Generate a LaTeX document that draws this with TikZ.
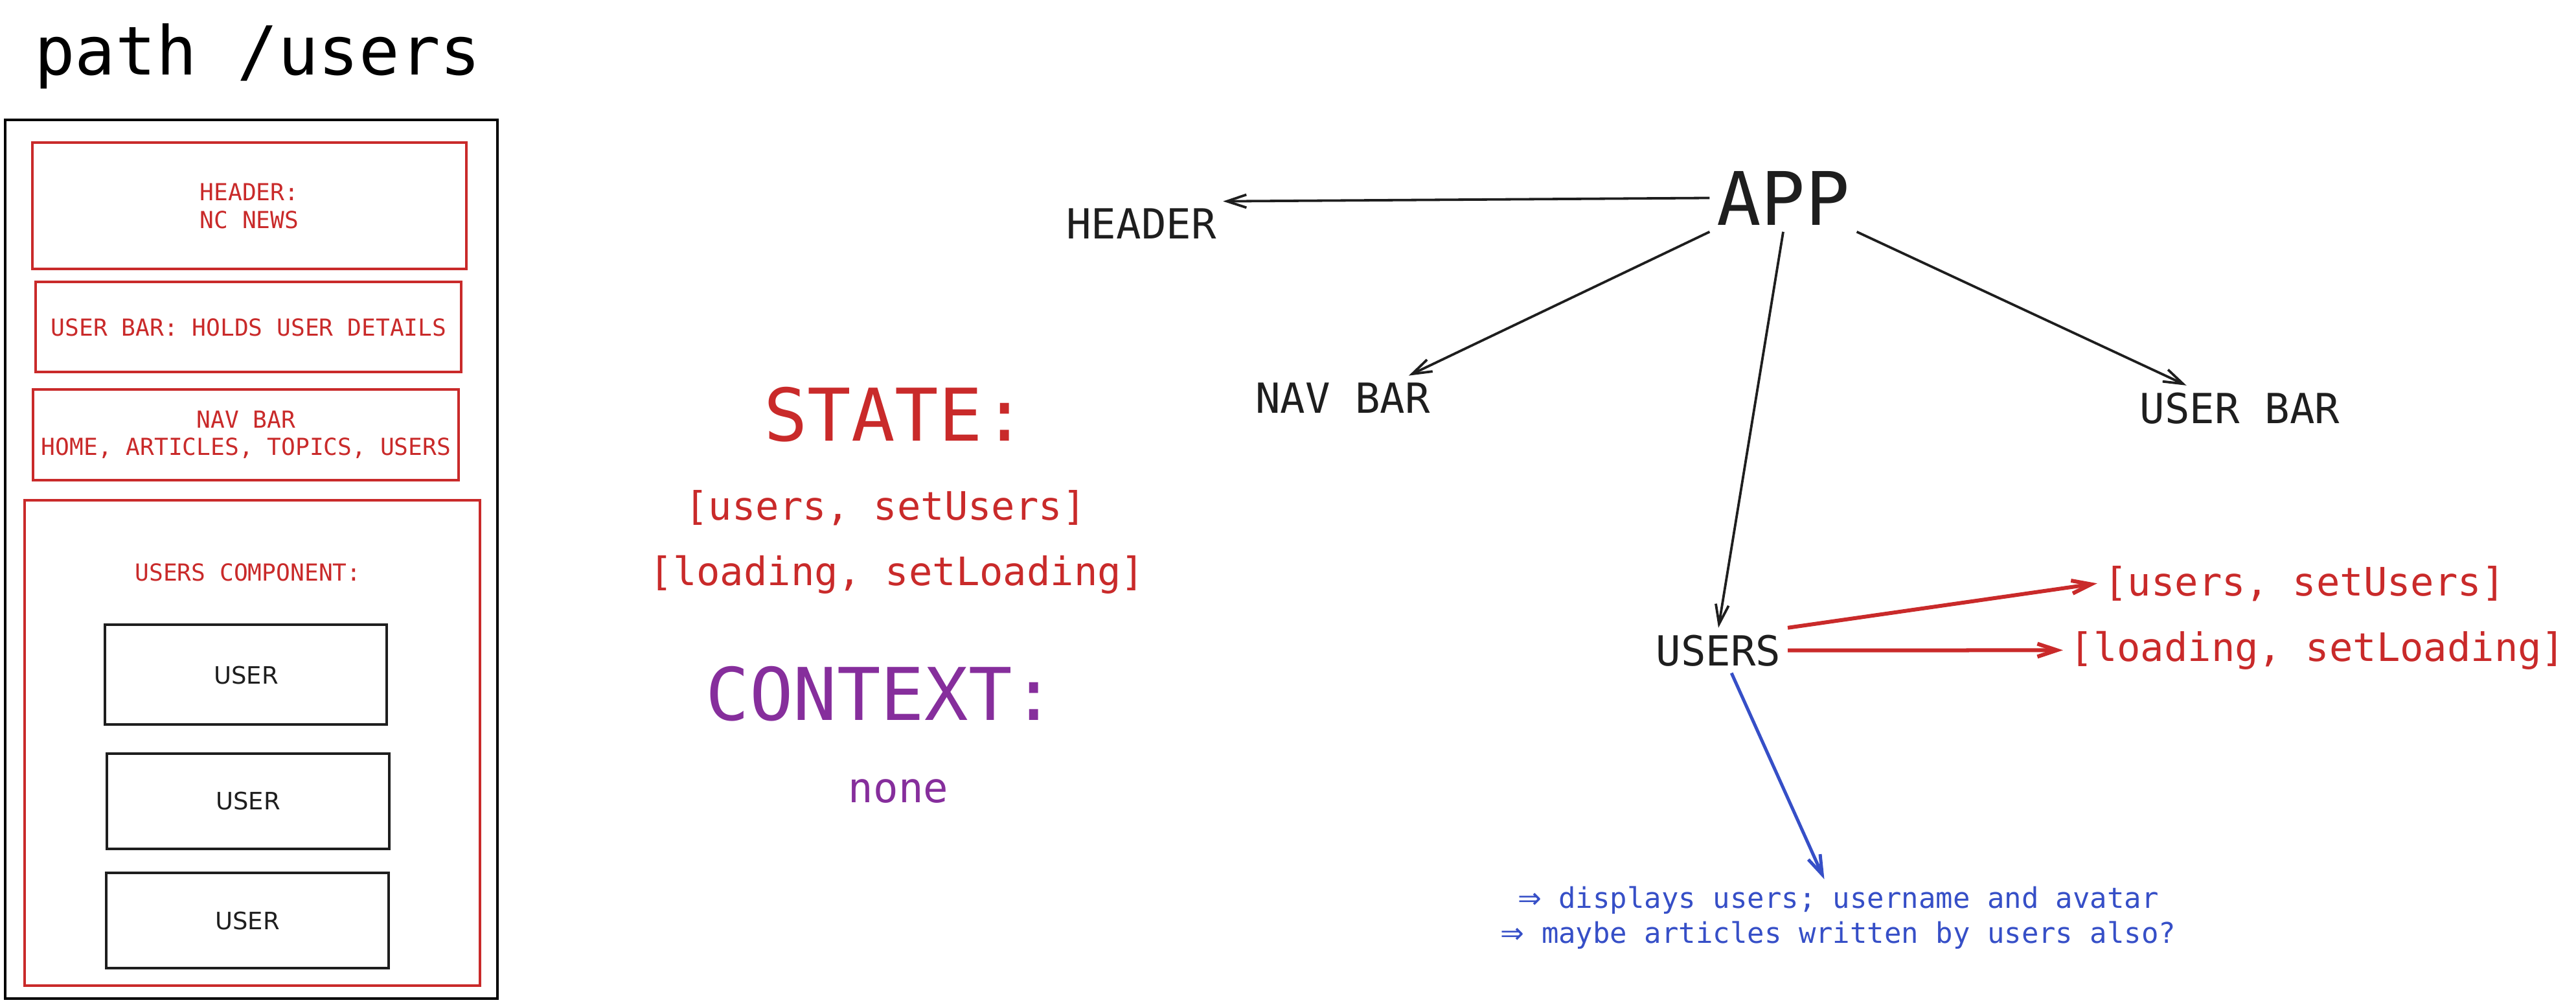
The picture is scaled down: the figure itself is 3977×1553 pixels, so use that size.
\documentclass[tikz,border=0pt]{standalone}
\usepackage{fontspec}
\setmonofont{DejaVu Sans Mono}
\setsansfont{DejaVu Sans}
\usetikzlibrary{arrows.meta,calc}
\definecolor{skred}{HTML}{C92A2A}
\definecolor{skpurple}{HTML}{862E9C}
\definecolor{skblue}{HTML}{364FC7}
\definecolor{skink}{HTML}{1E1E1E}
\def\fsz#1#2{\fontsize{#1}{#2}\selectfont}

\tikzset{
	pagebox/.style={line width=0.35mm, color=skred},
	userbox/.style={line width=0.4mm, color=skink},
	boxtxt/.style={font=\ttfamily\fsz{10.3pt}{12pt}, text=skred, align=center, inner sep=0pt},
	usertxt/.style={font=\sffamily\fsz{10.5pt}{12pt}, text=skink, anchor=base, inner sep=0pt},
	comp/.style={font=\ttfamily\fsz{18.2pt}{22pt}, text=skink, anchor=base, inner sep=0.1cm},
	hook/.style={font=\ttfamily\fsz{17.2pt}{20pt}, text=skred, anchor=base, inner sep=0.1cm},
	heading/.style={font=\ttfamily\fsz{31.9pt}{38pt}, anchor=base, inner sep=0.1cm},
	link/.style={->, line width=0.38mm, color=skink},
	statelink/.style={->, line width=0.6mm, color=skred},
	notelink/.style={->, line width=0.5mm, color=skblue},
}

\begin{document}
\begin{tikzpicture}[x=0.01cm, y=-0.01cm, >={Straight Barb[length=3mm, width=2mm]}]
		%%%%% START %%%%%
		\useasboundingbox (0,0) rectangle (3977,1553);
		
		% page mock-up
		\node[font=\ttfamily\fsz{29.6pt}{36pt}, text=black, anchor=base, inner sep=0pt] (title) at (398,115) {path /users};
		\draw[line width=0.42mm, color=black] (8,185) rectangle (768,1541);
		
		\draw[pagebox] (50,220) rectangle (720,415);
		\node[boxtxt] (pheader) at (385,318) {HEADER:\\NC NEWS};
		
		\draw[pagebox] (55,435) rectangle (712,574);
		\node[boxtxt, anchor=base] (pubar) at (384,518) {USER BAR: HOLDS USER DETAILS};
		
		\draw[pagebox] (51,601) rectangle (708,741);
		\node[boxtxt] (pnav) at (380,671) {NAV BAR\\HOME, ARTICLES, TOPICS, USERS};
		
		\draw[pagebox] (38,772) rectangle (741,1521);
		\node[boxtxt, anchor=base] (pcomp) at (383,896) {USERS COMPONENT:};
		
		\draw[userbox] (162,964) rectangle (597,1118);
		\node[usertxt] (puser1) at (380,1055) {USER};
		\draw[userbox] (165,1163) rectangle (601,1310);
		\node[usertxt] (puser2) at (383,1249) {USER};
		\draw[userbox] (164,1347) rectangle (600,1494);
		\node[usertxt] (puser3) at (382,1434) {USER};
		
		% state and context
		\node[heading, text=skred] (state) at (1382,680) {STATE:};
		\node[hook] (musers) at (1367,802) {[users, setUsers]};
		\node[hook] (mload) at (1385,903) {[loading, setLoading]};
		\node[heading, text=skpurple] (context) at (1360,1111) {CONTEXT:};
		\node[font=\ttfamily\fsz{18.2pt}{22pt}, text=skpurple, anchor=base] (none) at (1387,1238) {none};
		
		% component tree
		\node[comp, font=\ttfamily\fsz{32.4pt}{38pt}] (app) at (2753,347) {APP};
		\node[comp] (header) at (1762,368) {HEADER};
		\node[comp] (nav) at (2073,637) {NAV BAR};
		\node[comp] (ubar) at (3458,653) {USER BAR};
		\node[comp] (users) at (2653,1027) {USERS};
		\node[hook] (rusers) at (3558,919) {[users, setUsers]};
		\node[hook] (rload) at (3578,1020) {[loading, setLoading]};
		\node[font=\ttfamily\fsz{12.5pt}{15.4pt}, text=skblue, align=center, inner sep=0.1cm] (note) at (2838,1416) {{\sffamily ⇒} displays users; username and avatar\\{\sffamily ⇒} maybe articles written by users also?};
		
		\draw[link] (app.west) -- (header.north east);
		\draw[link] (app.south west) -- ($(nav.north)!0.7!(nav.north east)$);
		\draw[link] (app.south) -- (users.north);
		\draw[link] (app.south east) -- ($(ubar.north west)!0.25!(ubar.north east)$);
		
		\draw[statelink] (users.north east) -- (rusers.west);
		\draw[statelink] (users.east) -- (rload.west);
		\draw[notelink] (users.-60) -- (note.110);
		
		%%%%% END %%%%%
	\end{tikzpicture}
\end{document}
